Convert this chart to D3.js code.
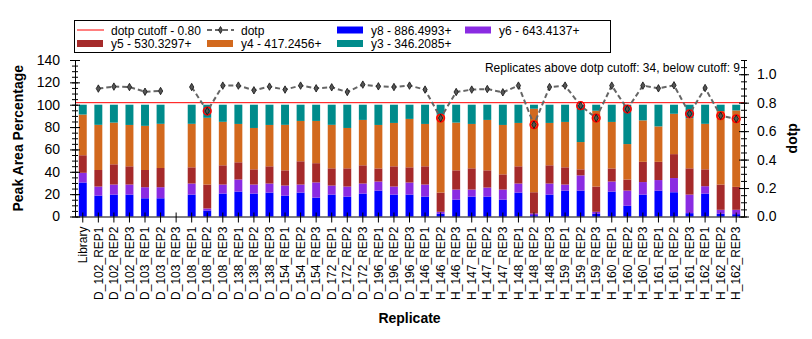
<!DOCTYPE html>
<head>
  <meta charset="utf-8">
  <script src="https://d3js.org/d3.v7.min.js"></script>
  <style>
    body { margin: 0; background: #fff; }
    svg { display: block; width: 812px; height: 339px; }
    text { font-family: Arial, "Liberation Sans", sans-serif; }
  </style>
</head>

<body>
  <svg></svg>

  <script>
    // replicate names along the x axis
    const replicates = [
      'Library',
      'D_102_REP1', 'D_102_REP2', 'D_102_REP3',
      'D_103_REP1', 'D_103_REP2', 'D_103_REP3',
      'D_108_REP1', 'D_108_REP2', 'D_108_REP3',
      'D_138_REP1', 'D_138_REP2', 'D_138_REP3',
      'D_154_REP1', 'D_154_REP2', 'D_154_REP3',
      'D_172_REP1', 'D_172_REP2', 'D_172_REP3',
      'D_196_REP1', 'D_196_REP2', 'D_196_REP3',
      'H_146_REP1', 'H_146_REP2', 'H_146_REP3',
      'H_147_REP1', 'H_147_REP2', 'H_147_REP3',
      'H_148_REP1', 'H_148_REP2', 'H_148_REP3',
      'H_159_REP1', 'H_159_REP2', 'H_159_REP3',
      'H_160_REP1', 'H_160_REP2', 'H_160_REP3',
      'H_161_REP1', 'H_161_REP2', 'H_161_REP3',
      'H_162_REP1', 'H_162_REP2', 'H_162_REP3'
    ];

    // peak area percentages per transition
    const y8 = [30.4, 18.7, 19.6, 19.6, 16.3, 16.3, 0, 19.6, 5.4, 20.5, 22.3, 20.5, 21.4, 18.7, 21.4, 16.9, 19.6, 17.8, 20.5, 23.2, 19.6, 19.6, 17.8, 2.4, 15.1, 17.8, 17.8, 15.1, 21.4, 1.2, 19.6, 23.2, 23.2, 2.4, 22.3, 9.6, 19.6, 23.2, 21.7, 3.0, 20.5, 2.4, 2.1];
    const y6 = [8.7, 8.1, 9.0, 9.0, 9.9, 9.9, 0, 9.9, 1.8, 8.1, 10.8, 8.1, 8.1, 9.0, 7.2, 13.6, 8.1, 9.0, 9.0, 8.1, 7.2, 10.8, 10.8, 1.8, 9.0, 6.3, 8.1, 9.0, 8.1, 1.5, 9.9, 5.4, 13.6, 1.8, 9.0, 13.6, 11.2, 9.4, 12.7, 16.6, 6.6, 3.6, 3.9];
    const y5 = [15.7, 14.8, 18.1, 16.3, 15.4, 17.2, 0, 14.5, 21.4, 17.2, 15.4, 13.6, 15.4, 13.6, 20.8, 17.2, 15.4, 16.3, 16.3, 11.7, 18.1, 13.6, 16.3, 17.2, 17.2, 19.0, 15.4, 13.6, 15.4, 19.0, 16.3, 15.4, 5.4, 22.6, 11.7, 9.9, 18.1, 16.3, 21.4, 23.5, 15.1, 22.6, 20.5];
    const y4 = [36.4, 40.4, 37.3, 37.0, 39.5, 39.5, 0, 38.9, 59.7, 38.9, 34.3, 37.0, 37.0, 40.7, 36.1, 37.8, 38.9, 36.1, 40.6, 38.9, 38.8, 43.3, 37.9, 69.6, 42.7, 39.7, 45.1, 44.2, 38.8, 74.7, 37.9, 40.6, 24.4, 67.8, 41.6, 31.7, 37.1, 31.7, 36.1, 44.9, 40.7, 65.7, 68.4];
    const y3 = [8.8, 18.0, 16.0, 18.1, 18.9, 17.1, 0, 17.1, 11.7, 15.3, 17.2, 20.8, 18.1, 18.0, 14.5, 14.5, 18.0, 20.8, 13.6, 18.1, 16.3, 12.7, 17.2, 9.0, 16.0, 17.2, 13.6, 18.1, 16.3, 3.6, 16.3, 15.4, 33.4, 5.4, 15.4, 35.2, 14.0, 19.4, 8.1, 12.0, 17.1, 5.7, 5.1];

    // dot product per replicate (none for the library and the missing run)
    const dotp = [null, 0.899, 0.913, 0.910, 0.877, 0.882, null, 0.910, 0.741, 0.920, 0.920, 0.887, 0.913, 0.892, 0.920, 0.901, 0.908, 0.875, 0.927, 0.915, 0.910, 0.920, 0.892, 0.692, 0.875, 0.892, 0.896, 0.873, 0.920, 0.645, 0.910, 0.920, 0.779, 0.692, 0.920, 0.755, 0.920, 0.901, 0.922, 0.722, 0.903, 0.708, 0.687];
    const cutoff = 0.80;

    const leftTicks = [0, 20, 40, 60, 80, 100, 120, 140];
    const rightTicks = [0, 0.2, 0.4, 0.6, 0.8, 1.0];

    const series = [
      { key: 'y8', label: 'y8 - 886.4993+', color: '#0000ff', values: y8 },
      { key: 'y6', label: 'y6 - 643.4137+', color: '#8a2be2', values: y6 },
      { key: 'y5', label: 'y5 - 530.3297+', color: '#a52a2a', values: y5 },
      { key: 'y4', label: 'y4 - 417.2456+', color: '#d2691e', values: y4 },
      { key: 'y3', label: 'y3 - 346.2085+', color: '#008b8b', values: y3 }
    ];

    const svg = d3.select('svg');
    const plotL = 75, plotR = 744, plotT = 60, plotB = 216.5;

    const x = d3.scaleBand()
      .domain(replicates)
      .range([plotL, plotR])
      .paddingInner(0.49)
      .paddingOuter(0.245);
    const yL = d3.scaleLinear().domain([0, 140]).range([plotB, plotT]);
    const yR = d3.scaleLinear().domain([0, 1.1]).range([plotB, plotT]);

    // stacked bars
    const table = replicates.map((r, i) => {
      const row = { replicate: r };
      series.forEach(s => { row[s.key] = s.values[i]; });
      return row;
    });
    const stacked = d3.stack().keys(series.map(s => s.key))(table);
    const color = d3.scaleOrdinal().domain(series.map(s => s.key)).range(series.map(s => s.color));

    svg.append('g').selectAll('g')
      .data(stacked)
      .join('g')
        .attr('fill', d => color(d.key))
      .selectAll('rect')
      .data(d => d)
      .join('rect')
        .attr('x', d => x(d.data.replicate))
        .attr('width', x.bandwidth())
        .attr('y', d => yL(d[1]))
        .attr('height', d => yL(d[0]) - yL(d[1]));

    // cutoff line
    svg.append('line')
      .attr('x1', plotL).attr('x2', plotR)
      .attr('y1', yR(cutoff)).attr('y2', yR(cutoff))
      .attr('stroke', '#ff0000').attr('stroke-width', 1);

    // dotp line and markers
    const pts = replicates.map((r, i) => ({ r, v: dotp[i] }));
    const line = d3.line()
      .defined(d => d.v != null)
      .x(d => x(d.r) + x.bandwidth() / 2)
      .y(d => yR(d.v));
    svg.append('path')
      .datum(pts)
      .attr('d', line)
      .attr('fill', 'none')
      .attr('stroke', '#666')
      .attr('stroke-width', 2)
      .attr('stroke-dasharray', '5,3');

    const marks = svg.append('g').selectAll('g')
      .data(pts.filter(d => d.v != null))
      .join('g')
        .attr('transform', d => `translate(${x(d.r) + x.bandwidth() / 2},${yR(d.v)})`);
    marks.filter(d => d.v < cutoff).append('circle')
      .attr('r', 3.8)
      .attr('fill', 'none')
      .attr('stroke', '#ff0000')
      .attr('stroke-width', 1.6);
    marks.append('path')
      .attr('d', d3.symbol(d3.symbolDiamond, 16))
      .attr('fill', '#555')
      .attr('stroke', '#111')
      .attr('stroke-width', 0.8);

    // axes; ticks cross the axis line
    function crossTicks(g) {
      g.selectAll('.tick line').each(function () {
        const l = d3.select(this);
        const x2 = +l.attr('x2') || 0, y2 = +l.attr('y2') || 0;
        if (x2) l.attr('x1', -x2);
        if (y2) l.attr('y1', -y2);
      });
    }

    svg.append('g')
      .attr('transform', `translate(${plotL},0)`)
      .call(d3.axisLeft(yL).tickValues(d3.range(0, 141, 5)).tickSize(3).tickFormat(''))
      .call(crossTicks)
      .call(g => g.select('.domain').remove())
      .call(g => g.selectAll('line').attr('stroke', '#000'));
    svg.append('g')
      .attr('transform', `translate(${plotL},0)`)
      .call(d3.axisLeft(yL).tickValues(leftTicks).tickSize(5).tickPadding(10).tickSizeOuter(0))
      .call(crossTicks)
      .call(g => g.selectAll('text').attr('font-size', 14).attr('font-family', null).attr('fill', '#000'))
      .call(g => g.selectAll('line, path').attr('stroke', '#000'));

    svg.append('g')
      .attr('transform', `translate(${plotR},0)`)
      .call(d3.axisRight(yR).tickValues(d3.range(0, 1.1001, 0.05)).tickSize(3).tickFormat(''))
      .call(crossTicks)
      .call(g => g.select('.domain').remove())
      .call(g => g.selectAll('line').attr('stroke', '#000'));
    svg.append('g')
      .attr('transform', `translate(${plotR},0)`)
      .call(d3.axisRight(yR).tickValues(rightTicks).tickSize(5).tickPadding(8).tickSizeOuter(0).tickFormat(d3.format('.1f')))
      .call(crossTicks)
      .call(g => g.selectAll('text').attr('font-size', 14).attr('font-family', null).attr('fill', '#000'))
      .call(g => g.selectAll('line, path').attr('stroke', '#000'));

    svg.append('g')
      .attr('transform', `translate(0,${plotB})`)
      .call(d3.axisBottom(x).tickSize(6).tickSizeOuter(0))
      .call(g => g.selectAll('.tick line').attr('y1', -4))
      .call(g => g.selectAll('line, path').attr('stroke', '#000'))
      .call(g => g.selectAll('text')
        .attr('font-size', 12)
        .attr('font-family', null)
        .attr('fill', '#000')
        .attr('transform', 'rotate(-90)')
        .attr('x', -10)
        .attr('y', 0)
        .attr('dy', '0.35em')
        .attr('text-anchor', 'end'));

    // axis titles
    svg.append('text')
      .attr('x', (plotL + plotR) / 2).attr('y', 323)
      .attr('text-anchor', 'middle')
      .attr('font-size', 14).attr('font-weight', 'bold')
      .text('Replicate');
    svg.append('text')
      .attr('transform', `translate(23,${(plotT + plotB) / 2})rotate(-90)`)
      .attr('text-anchor', 'middle')
      .attr('font-size', 14).attr('font-weight', 'bold')
      .text('Peak Area Percentage');
    svg.append('text')
      .attr('transform', `translate(797,${(plotT + plotB) / 2})rotate(-90)`)
      .attr('text-anchor', 'middle')
      .attr('font-size', 14).attr('font-weight', 'bold')
      .text('dotp');

    const above = dotp.filter(v => v == null || v >= cutoff).length;
    const below = dotp.filter(v => v != null && v < cutoff).length;
    svg.append('text')
      .attr('x', 740).attr('y', 72)
      .attr('text-anchor', 'end')
      .attr('font-size', 12)
      .text(`Replicates above dotp cutoff: ${above}, below cutoff: ${below}`);

    // legend
    const legend = svg.append('g');
    legend.append('rect')
      .attr('x', 74.5).attr('y', 20.5).attr('width', 536).attr('height', 32)
      .attr('fill', '#fff').attr('stroke', '#000');

    const colX = [77, 207, 337, 465];
    const rowY = [30, 43.5];
    const items = [
      { type: 'cutoff', label: `dotp cutoff - ${cutoff.toFixed(2)}`, col: 0, row: 0 },
      { type: 'dotp', label: 'dotp', col: 1, row: 0 },
      { type: 'bar', s: series[0], col: 2, row: 0 },
      { type: 'bar', s: series[1], col: 3, row: 0 },
      { type: 'bar', s: series[2], col: 0, row: 1 },
      { type: 'bar', s: series[3], col: 1, row: 1 },
      { type: 'bar', s: series[4], col: 2, row: 1 }
    ];
    items.forEach(it => {
      const g = legend.append('g')
        .attr('transform', `translate(${colX[it.col]},${rowY[it.row]})`);
      if (it.type === 'cutoff') {
        g.append('line').attr('x1', 0).attr('x2', 27).attr('stroke', '#ff0000');
      } else if (it.type === 'dotp') {
        g.append('line').attr('x1', 0).attr('x2', 27)
          .attr('stroke', '#666').attr('stroke-width', 2).attr('stroke-dasharray', '5,3');
        g.append('path').attr('transform', 'translate(13.5,0)')
          .attr('d', d3.symbol(d3.symbolDiamond, 14))
          .attr('fill', '#555').attr('stroke', '#111').attr('stroke-width', 0.8);
      } else {
        g.append('rect').attr('x', 0).attr('y', -3.5).attr('width', 26).attr('height', 7)
          .attr('fill', it.s.color);
      }
      g.append('text')
        .attr('x', 34).attr('y', 4.5)
        .attr('font-size', 12)
        .text(it.label || it.s.label);
    });
  </script>
</body>
